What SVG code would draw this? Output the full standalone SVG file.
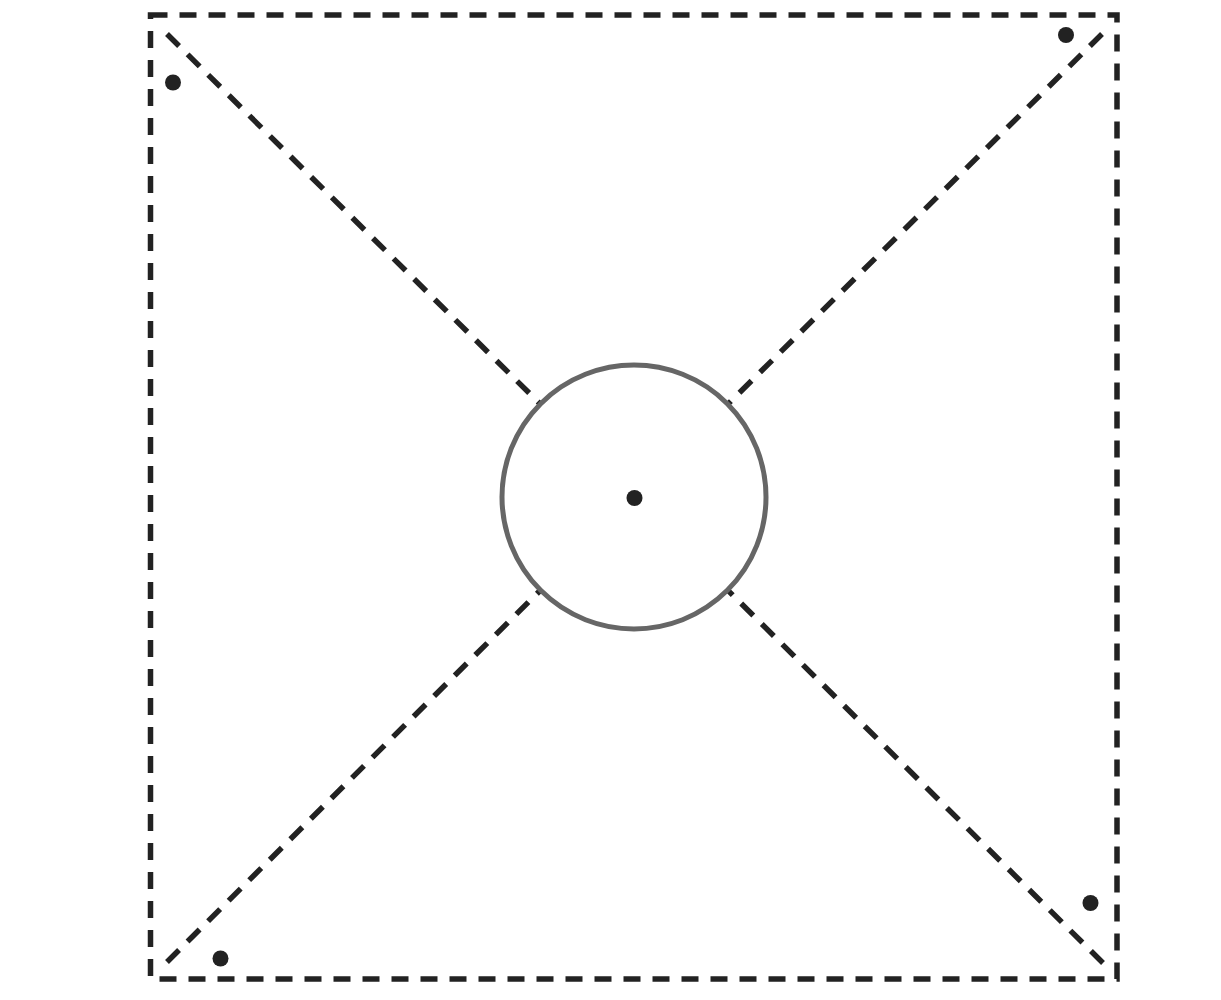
<svg xmlns="http://www.w3.org/2000/svg" width="1221" height="1000" viewBox="0 0 1221 1000">
<style>
.dash{fill:none;stroke:#222;stroke-width:5.5;stroke-dasharray:17 12}
.dot{fill:#222}
.ring{fill:#fff;stroke:#666;stroke-width:5}
</style>
<rect width="1221" height="1000" fill="#fff"/>
<g id="frame">
<rect class="dash" x="150.5" y="15" width="966.5" height="964"/>
</g>
<g id="connectors">
<line class="dash" x1="167" y1="34" x2="634" y2="497"/>
<line class="dash" x1="1102" y1="34" x2="634" y2="497"/>
<line class="dash" x1="167" y1="962" x2="634" y2="497"/>
<line class="dash" x1="1103" y1="963" x2="634" y2="497"/>
</g>
<g id="hub">
<circle class="ring" cx="634" cy="497" r="132"/>
<circle class="dot" cx="634.5" cy="498" r="8"/>
</g>
<g id="corner-dots">
<circle class="dot" cx="173" cy="82.5" r="8"/>
<circle class="dot" cx="1066" cy="35" r="8"/>
<circle class="dot" cx="1090.5" cy="903" r="8"/>
<circle class="dot" cx="220.5" cy="958.5" r="8"/>
</g>
</svg>
